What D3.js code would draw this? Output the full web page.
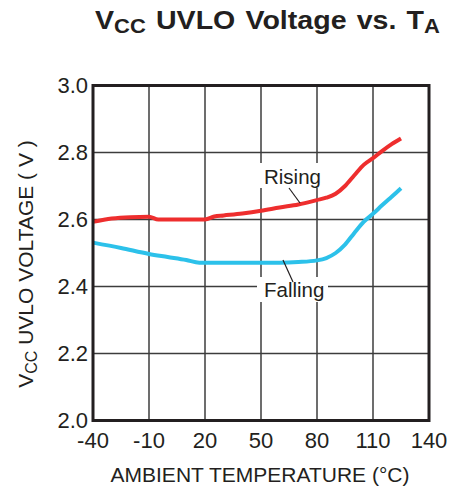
<!DOCTYPE html>
<html><head><meta charset="utf-8">
<script src="https://cdn.jsdelivr.net/npm/d3@7"></script>
<style>body{margin:0;background:#fff}svg{display:block;font-family:"Liberation Sans",Arial,Helvetica,sans-serif}</style>
</head><body><svg id="c" width="462" height="488"></svg>
<script>
const xTicks = [-40, -10, 20, 50, 80, 110, 140];
const yTicks = [2.0, 2.2, 2.4, 2.6, 2.8, 3.0];
const risingT = [-40, -30, -20, -10, -5, 0, 10, 20, 25, 30, 40, 50, 60, 70, 80, 85, 90, 95, 100, 105, 110, 115, 120, 125];
const risingV = [2.593, 2.603, 2.607, 2.608, 2.600, 2.600, 2.600, 2.600, 2.609, 2.612, 2.618, 2.626, 2.636, 2.645, 2.658, 2.665, 2.677, 2.700, 2.732, 2.763, 2.783, 2.805, 2.825, 2.842];
const fallingT = [-40, -25, -10, 0, 10, 17, 30, 50, 60, 70, 80, 85, 90, 95, 100, 105, 110, 115, 120, 125];
const fallingV = [2.531, 2.515, 2.497, 2.488, 2.479, 2.471, 2.471, 2.471, 2.471, 2.473, 2.478, 2.485, 2.500, 2.525, 2.560, 2.593, 2.617, 2.643, 2.668, 2.693];
const seriesNames = ["Rising", "Falling"];

const svg = d3.select("#c");
const ink = "#231f20";
const L = 93, R = 429, T = 85.5, B = 420.5;
const x = d3.scaleLinear().domain([-40, 140]).range([L, R]);
const y = d3.scaleLinear().domain([2.0, 3.0]).range([B, T]);

// grid
svg.append("g").selectAll("line").data(xTicks.slice(1, -1)).join("line")
  .attr("x1", d => x(d)).attr("x2", d => x(d)).attr("y1", T).attr("y2", B)
  .attr("stroke", "#3c3c3c").attr("stroke-width", 1.5);
svg.append("g").selectAll("line").data(yTicks.slice(1, -1)).join("line")
  .attr("y1", d => y(d)).attr("y2", d => y(d)).attr("x1", L).attr("x2", R)
  .attr("stroke", "#3c3c3c").attr("stroke-width", 1.5);

// label backgrounds
svg.append("rect").attr("x", 258).attr("y", 163).attr("width", 68).attr("height", 25).attr("fill", "#fff");
svg.append("rect").attr("x", 257).attr("y", 277).attr("width", 71).attr("height", 25).attr("fill", "#fff");

// curves
const line = d3.line().x(d => x(d[0])).y(d => y(d[1])).curve(d3.curveMonotoneX);
svg.append("path").datum(risingT.map((t, i) => [t, risingV[i]]))
  .attr("d", line).attr("fill", "none").attr("stroke", "#ee2e2e").attr("stroke-width", 4);
svg.append("path").datum(fallingT.map((t, i) => [t, fallingV[i]]))
  .attr("d", line).attr("fill", "none").attr("stroke", "#2cc1ea").attr("stroke-width", 4);

// frame
svg.append("rect").attr("x", L).attr("y", T).attr("width", R - L).attr("height", B - T)
  .attr("fill", "none").attr("stroke", ink).attr("stroke-width", 3);

// series labels + leaders
svg.append("text").attr("x", 264).attr("y", 184).attr("font-size", 20.5).attr("fill", ink).text(seriesNames[0]);
svg.append("line").attr("x1", 289).attr("y1", 188).attr("x2", 300).attr("y2", 203).attr("stroke", ink).attr("stroke-width", 1.2);
svg.append("text").attr("x", 264).attr("y", 297).attr("font-size", 20.5).attr("fill", ink).text(seriesNames[1]);
svg.append("line").attr("x1", 283).attr("y1", 260).attr("x2", 293).attr("y2", 282).attr("stroke", ink).attr("stroke-width", 1.2);

// tick labels
svg.append("g").selectAll("text").data(yTicks).join("text")
  .attr("x", 88).attr("y", d => y(d)).attr("dy", "0.36em").attr("text-anchor", "end")
  .attr("font-size", 22).attr("fill", ink).text(d => d.toFixed(1));
svg.append("g").selectAll("text").data(xTicks).join("text")
  .attr("x", d => x(d)).attr("y", 448).attr("text-anchor", "middle")
  .attr("font-size", 22).attr("fill", ink).text(d => d);

// axis titles
svg.append("text").attr("x", 260).attr("y", 482).attr("text-anchor", "middle")
  .attr("font-size", 21).attr("fill", ink).text("AMBIENT TEMPERATURE (°C)");
const yl = svg.append("text").attr("transform", "translate(33,264) rotate(-90)")
  .attr("text-anchor", "middle").attr("font-size", 21).attr("fill", ink);
yl.append("tspan").text("V");
yl.append("tspan").attr("font-size", 16).attr("dy", 4).text("CC");
yl.append("tspan").attr("dy", -4).text(" UVLO VOLTAGE ( V )");

// title
const tt = svg.append("text").attr("x", 0).attr("y", 0).attr("font-size", 26)
  .attr("font-weight", "bold").attr("fill", ink).attr("word-spacing", 2);
tt.append("tspan").text("V");
tt.append("tspan").attr("font-size", 20).attr("dy", 3.5).text("CC");
tt.append("tspan").attr("dy", -3.5).text(" UVLO Voltage vs. T");
tt.append("tspan").attr("font-size", 20).attr("dy", 3.5).text("A");
const tb = tt.node().getBBox();
const sx = 345 / tb.width;
tt.attr("transform", `translate(${95 - tb.x * sx},29) scale(${sx},1)`);
</script></body></html>
